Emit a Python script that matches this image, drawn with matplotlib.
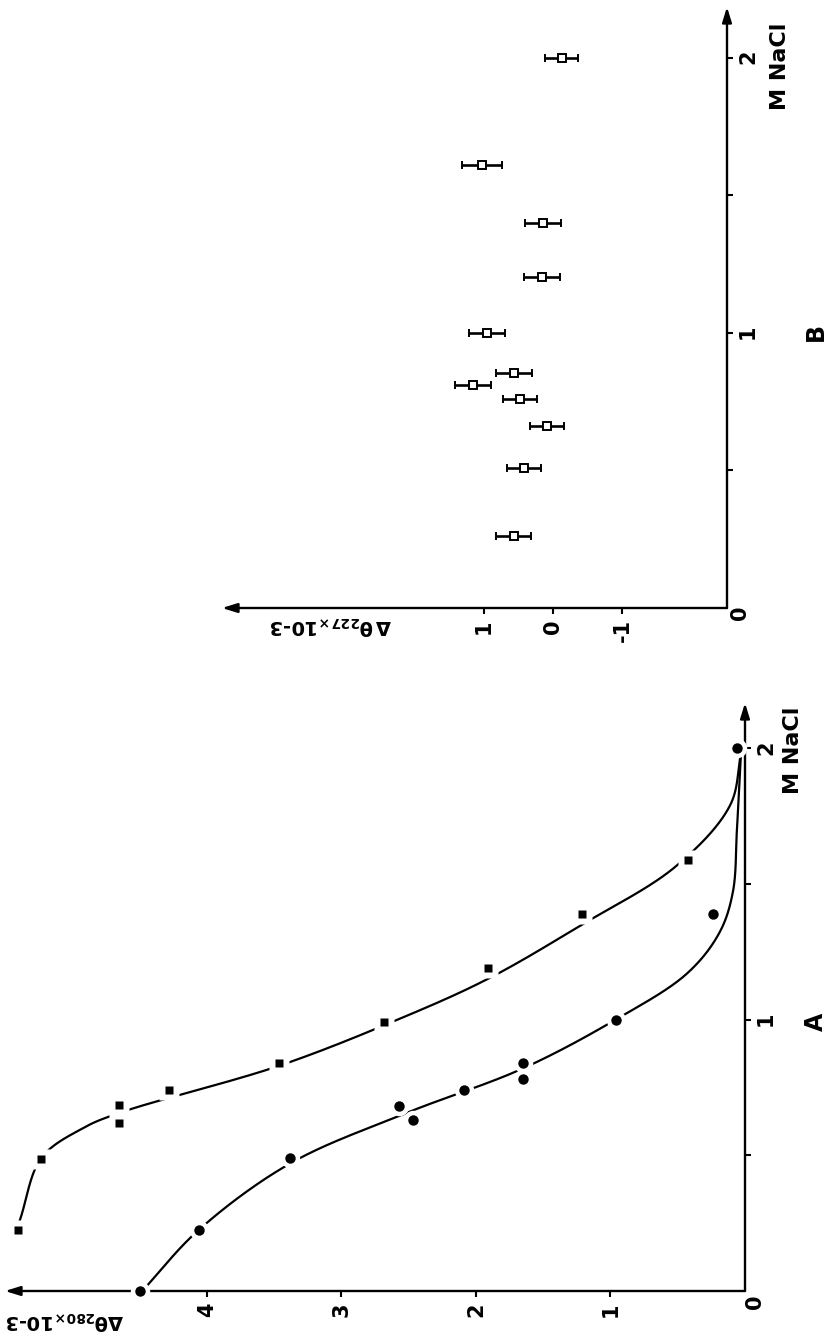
import numpy as np
import matplotlib
matplotlib.use("Agg")
import matplotlib.pyplot as plt

plt.rcParams['font.family'] = ['DejaVu Sans']
plt.rcParams['font.weight'] = 'bold'
plt.rcParams['mathtext.fontset'] = 'custom'
plt.rcParams['mathtext.rm'] = 'DejaVu Sans:bold'
plt.rcParams['mathtext.it'] = 'DejaVu Sans:bold'
plt.rcParams['mathtext.bf'] = 'DejaVu Sans:bold'

# ---------------- data: panel A (Δθ280 ×10^-3 vs M NaCl) ----------------
sq_nacl = [0.225, 0.486, 0.62, 0.685, 0.74, 0.84, 0.99, 1.19, 1.39, 1.587]
sq_dtheta = [5.40, 5.23, 4.65, 4.65, 4.28, 3.46, 2.68, 1.91, 1.21, 0.42]
ci_nacl = [0.0, 0.225, 0.49, 0.63, 0.68, 0.74, 0.78, 0.84, 1.0, 1.39, 2.0]
ci_dtheta = [4.50, 4.06, 3.38, 2.47, 2.57, 2.09, 1.65, 1.65, 0.96, 0.24, 0.06]

# hand-drawn fitted curves
sq_curve_nacl = [0.26, 0.49, 0.60, 0.656, 0.83, 1.0, 1.15, 1.35, 1.566, 1.79, 1.98]
sq_curve_dtheta = [5.39, 5.23, 4.92, 4.65, 3.46, 2.58, 1.91, 1.21, 0.51, 0.11, 0.03]
ci_curve_nacl = [0.0, 0.225, 0.47, 0.655, 0.82, 1.0, 1.17, 1.32, 1.47, 1.70, 1.98]
ci_curve_dtheta = [4.48, 4.06, 3.38, 2.52, 1.65, 0.96, 0.43, 0.19, 0.09, 0.06, 0.03]

# ---------------- data: panel B (Δθ227 ×10^-3 vs M NaCl) ----------------
b_nacl = [0.26, 0.51, 0.66, 0.76, 0.81, 0.855, 1.0, 1.205, 1.40, 1.61, 2.0]
b_dtheta = [0.57, 0.42, 0.09, 0.48, 1.15, 0.57, 0.96, 0.16, 0.15, 1.03, -0.125]
b_err = [0.25, 0.24, 0.25, 0.25, 0.26, 0.26, 0.26, 0.26, 0.26, 0.29, 0.24]

a_xticks = [1, 2, 3, 4]
b_xticks = [-1, 0, 1]
nacl_ticks = [0.5, 1.0, 1.5, 2.0]
nacl_labels = ['', '1', '', '2']

W, H = 826, 1338
fig = plt.figure(figsize=(W / 100, H / 100), dpi=100)


def px_axes(left, right, top, bottom):
    return fig.add_axes([left / W, 1 - bottom / H, (right - left) / W, (bottom - top) / H])


def catmull(ax, xs, ys, n=60):
    P = ax.transData.transform(np.column_stack([xs, ys]))
    P = np.vstack([2 * P[0] - P[1], P, 2 * P[-1] - P[-2]])
    out = []
    for i in range(1, len(P) - 2):
        p0, p1, p2, p3 = P[i - 1], P[i], P[i + 1], P[i + 2]
        t0 = 0.0
        t1 = t0 + np.linalg.norm(p1 - p0) ** 0.5
        t2 = t1 + np.linalg.norm(p2 - p1) ** 0.5
        t3 = t2 + np.linalg.norm(p3 - p2) ** 0.5
        t = np.linspace(t1, t2, n)[:, None]
        A1 = (t1 - t) / (t1 - t0) * p0 + (t - t0) / (t1 - t0) * p1
        A2 = (t2 - t) / (t2 - t1) * p1 + (t - t1) / (t2 - t1) * p2
        A3 = (t3 - t) / (t3 - t2) * p2 + (t - t2) / (t3 - t2) * p3
        B1 = (t2 - t) / (t2 - t0) * A1 + (t - t0) / (t2 - t0) * A2
        B2 = (t3 - t) / (t3 - t1) * A2 + (t - t1) / (t3 - t1) * A3
        C = (t2 - t) / (t2 - t1) * B1 + (t - t1) / (t2 - t1) * B2
        out.append(C)
    C = np.vstack(out)
    D = ax.transData.inverted().transform(C)
    return D[:, 0], D[:, 1]


def style_axes(ax, xticks, origin_off):
    for s in ax.spines.values():
        s.set_visible(False)
    ax.patch.set_alpha(0)
    arrow = dict(arrowstyle='-|>,head_length=0.9,head_width=0.28', lw=1.7,
                 color='black', shrinkA=0, shrinkB=0, mutation_scale=10)
    ax.annotate('', xy=(0, 0), xycoords='axes fraction', xytext=(1, 0),
                textcoords='axes fraction', arrowprops=arrow)
    ax.annotate('', xy=(1, 1), xycoords='axes fraction', xytext=(1, 0),
                textcoords='axes fraction', arrowprops=arrow)
    ax.xaxis.tick_bottom()
    ax.yaxis.tick_right()
    ax.set_xticks(xticks)
    ax.set_xticklabels([str(v) for v in xticks])
    ax.set_yticks(nacl_ticks)
    ax.set_yticklabels(nacl_labels)
    ax.tick_params(axis='both', direction='out', length=4, width=1.5,
                   labelsize=15, labelrotation=90, pad=4)
    ax.annotate('0', xy=(1, 0), xycoords='axes fraction', xytext=origin_off,
                textcoords='offset pixels', rotation=90, ha='center',
                va='center', fontsize=15, fontweight='bold')


# ---------------- panel A ----------------
axA = px_axes(5, 745, 703, 1291)
axA.set_xlim(5.5, 0)
axA.set_ylim(0, 2.166)
style_axes(axA, a_xticks, (10, -11))

for cx, cy in [(sq_curve_dtheta, sq_curve_nacl), (ci_curve_dtheta, ci_curve_nacl)]:
    x, y = catmull(axA, cx, cy)
    axA.plot(x, y, color='black', lw=1.6, zorder=2, clip_on=False)

axA.plot(sq_dtheta, sq_nacl, 's', ms=15, color='white', mec='none', zorder=3, clip_on=False)
axA.plot(ci_dtheta, ci_nacl, 'o', ms=14, color='white', mec='none', zorder=3, clip_on=False)
axA.plot(sq_dtheta, sq_nacl, 's', ms=6, color='black', mec='none', zorder=4, clip_on=False)
axA.plot(ci_dtheta, ci_nacl, 'o', ms=7.5, color='black', mec='none', zorder=4, clip_on=False)

# ---------------- panel B ----------------
axB = px_axes(222, 727, 7, 608)
axB.set_xlim(4.78, -2.51)
axB.set_ylim(0, 2.185)
style_axes(axB, b_xticks, (13, -5))
axB.errorbar(b_dtheta, b_nacl, xerr=b_err, fmt='s', ms=5.5, mfc='white',
             mec='black', mew=1.4, ecolor='black', elinewidth=1.9,
             capsize=2.8, capthick=1.9, color='black', zorder=3)

# ---------------- labels (rotated like the reference) ----------------
def ftext(x, y, s, **kw):
    fig.text(x / W, 1 - y / H, s, ha='center', va='center', fontweight='bold', **kw)

ftext(793, 750, 'M NaCl', rotation=90, fontsize=16)
ftext(780, 66, 'M NaCl', rotation=90, fontsize=16)
ftext(816, 1022, 'A', rotation=90, fontsize=17)
ftext(816, 332, 'B', rotation=90, fontsize=17)
ftext(65, 1320, r'$\Delta\theta_{280}{}_{\times}$10-3', rotation=180, fontsize=14)
ftext(331, 625, r'$\Delta\,\theta_{227}{}_{\times}$10-3', rotation=180, fontsize=14)

fig.savefig('out.png', dpi=100)
